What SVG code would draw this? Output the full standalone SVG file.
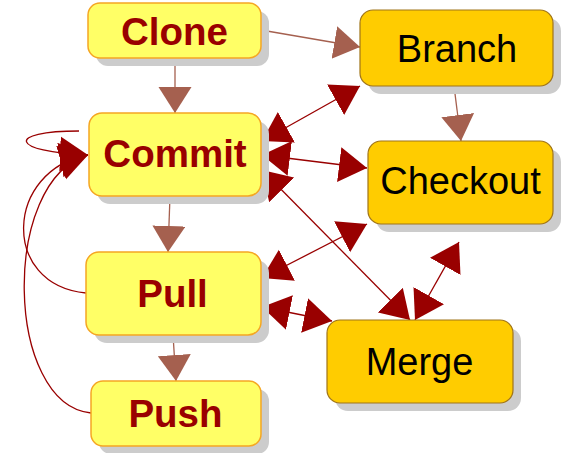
<svg xmlns="http://www.w3.org/2000/svg" width="568" height="453" viewBox="0 0 568 453">
  <defs>
    <style>
      .shadow { fill: #cccccc; }
      .yel { fill: #ffff66; stroke: #f5a623; stroke-width: 1.5; }
      .gold { fill: #ffcc00; stroke: #a07418; stroke-width: 1.2; }
      .tb { font-family: "Liberation Sans", Arial, sans-serif; font-size: 38.5px; font-weight: bold; fill: #990000; text-anchor: middle; }
      .tr { font-family: "Liberation Sans", Arial, sans-serif; font-size: 38px; fill: #000000; text-anchor: middle; }
      .brown { stroke: #a5604f; stroke-width: 1.3; fill: none; marker-end: url(#ab); }
      .red2 { stroke: #990000; stroke-width: 1.3; fill: none; marker-start: url(#ar); marker-end: url(#ar); }
      .red1 { stroke: #990000; stroke-width: 1.3; fill: none; marker-end: url(#ar); }
    </style>
    <marker id="ab" markerUnits="userSpaceOnUse" markerWidth="27" markerHeight="34" refX="26" refY="16.5" orient="auto" viewBox="0 0 27 34">
      <path d="M0,0 L26,16.5 L0,33 z" fill="#a5604f"/>
    </marker>
    <marker id="ar" markerUnits="userSpaceOnUse" markerWidth="30" markerHeight="36" refX="28" refY="17.5" orient="auto-start-reverse" viewBox="0 0 30 36">
      <path d="M0,0 L28,17.5 L0,35 z" fill="#990000"/>
    </marker>
  </defs>

  <g id="connectors">
    <path class="brown" d="M261,30 L360,47"/>
    <path class="brown" d="M175,58 L175,113"/>
    <path class="brown" d="M454,86 L461,141"/>
    <path class="brown" d="M170,196 L168,252"/>
    <path class="brown" d="M173,335 L176,381"/>
    <path class="red2" d="M262,141 L360,86"/>
    <path class="red2" d="M262,155 L367,168"/>
    <path class="red2" d="M262,170 L410,320"/>
    <path class="red2" d="M262,278 L367,224"/>
    <path class="red2" d="M262,307 L332,321"/>
    <path class="red2" d="M415,320 L459,242"/>
    <path class="red1" d="M79,131 C5,131 10,152 88,155"/>
    <path class="red1" d="M86,293 C0,285 5,170 88,155"/>
    <path class="red1" d="M91,413 C5,405 0,180 88,155"/>
  </g>

  <g id="clone">
    <rect class="shadow" x="96" y="11" width="173" height="55" rx="12"/>
    <rect class="yel" x="88" y="3" width="173" height="55" rx="12"/>
    <text class="tb" x="174.5" y="45">Clone</text>
  </g>
  <g id="commit">
    <rect class="shadow" x="97" y="121" width="172" height="83" rx="13"/>
    <rect class="yel" x="89" y="113" width="172" height="83" rx="13"/>
    <text class="tb" x="175" y="167">Commit</text>
  </g>
  <g id="pull">
    <rect class="shadow" x="94" y="260" width="175" height="83" rx="13"/>
    <rect class="yel" x="86" y="252" width="175" height="83" rx="13"/>
    <text class="tb" x="172.5" y="307">Pull</text>
  </g>
  <g id="push">
    <rect class="shadow" x="99" y="389" width="170" height="65" rx="12"/>
    <rect class="yel" x="91" y="381" width="170" height="65" rx="12"/>
    <text class="tb" x="175.5" y="427">Push</text>
  </g>
  <g id="branch">
    <rect class="shadow" x="368" y="18" width="193" height="76" rx="13"/>
    <rect class="gold" x="360" y="10" width="193" height="76" rx="13"/>
    <text class="tr" x="457" y="62">Branch</text>
  </g>
  <g id="checkout">
    <rect class="shadow" x="376" y="149" width="185" height="83" rx="13"/>
    <rect class="gold" x="368" y="141" width="185" height="83" rx="13"/>
    <text class="tr" x="460.5" y="194">Checkout</text>
  </g>
  <g id="merge">
    <rect class="shadow" x="335" y="328" width="186" height="83" rx="13"/>
    <rect class="gold" x="327" y="320" width="186" height="83" rx="13"/>
    <text class="tr" x="419.5" y="375">Merge</text>
  </g>
</svg>
